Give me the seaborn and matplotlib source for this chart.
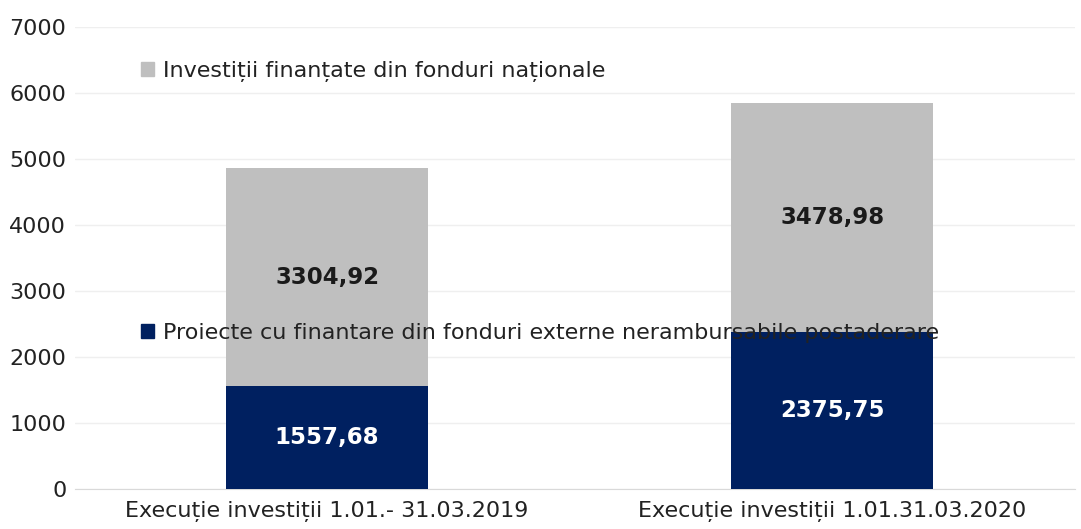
#importing libraries
import pandas as pd
import seaborn as sns
import matplotlib.pyplot as plt
from matplotlib.patches import Patch

#chart data
categories = ["Execuție investiții 1.01.- 31.03.2019", "Execuție investiții 1.01.31.03.2020"]
externe = [1557.68, 2375.75]
nationale = [3304.92, 3478.98]
label_ext = "Proiecte cu finantare din fonduri externe nerambursabile postaderare"
label_nat = "Investiții finanțate din fonduri naționale"

df = pd.DataFrame({"cat": categories, "ext": externe, "nat": nationale})
df["total"] = df["ext"] + df["nat"]

navy = "#002060"
grey = "#BFBFBF"

sns.set_style("white")
plt.rcParams['font.family'] = ['DejaVu Sans']

fig = plt.figure(figsize=(10.81, 5.29), dpi=100)
ax = fig.add_axes([0.069, 0.076, 0.925, 0.873])

#stacked bars: total in grey, external part in navy on top of it
sns.barplot(data=df, x="cat", y="total", color=grey, width=0.4, saturation=1, linewidth=0, ax=ax, zorder=2)
sns.barplot(data=df, x="cat", y="ext", color=navy, width=0.4, saturation=1, linewidth=0, ax=ax, zorder=3)

for i in range(len(df)):
    ax.text(i, df["ext"][i] / 2, f"{df['ext'][i]:.2f}".replace(".", ","), ha="center", va="center",
            color="white", fontsize=16.5, fontweight="bold", zorder=5)
    ax.text(i, df["ext"][i] + df["nat"][i] / 2, f"{df['nat'][i]:.2f}".replace(".", ","), ha="center",
            va="center", color="#1a1a1a", fontsize=16.5, fontweight="bold", zorder=5)

ax.set_ylim(0, 7000)
ax.set_xlim(-0.5, 1.48)
ax.set_yticks(range(0, 7001, 1000))
ax.yaxis.grid(True, color="#EFEFEF", linewidth=1, zorder=0)
ax.set_axisbelow(True)
ax.set_xlabel("")
ax.set_ylabel("")
ax.tick_params(axis="both", labelsize=16, colors="#222222", length=0)
ax.tick_params(axis="x", pad=9)
ax.tick_params(axis="y", pad=6)
for s in ["top", "right", "left"]:
    ax.spines[s].set_visible(False)
ax.spines["bottom"].set_color("#D9D9D9")

#two separate legend entries, placed like in the original
leg1 = ax.legend(handles=[Patch(color=grey)], labels=[label_nat], loc="center left",
                 bbox_to_anchor=(0.046, 0.903), frameon=False, fontsize=16,
                 handlelength=0.6, handleheight=0.6, handletextpad=0.4, labelcolor="#222222")
ax.add_artist(leg1)
leg2 = ax.legend(handles=[Patch(color=navy)], labels=[label_ext], loc="center left",
                 bbox_to_anchor=(0.046, 0.337), frameon=False, fontsize=16,
                 handlelength=0.6, handleheight=0.6, handletextpad=0.4, labelcolor="#222222")
leg2.set_zorder(4)

fig.savefig("out.png", dpi=100)
